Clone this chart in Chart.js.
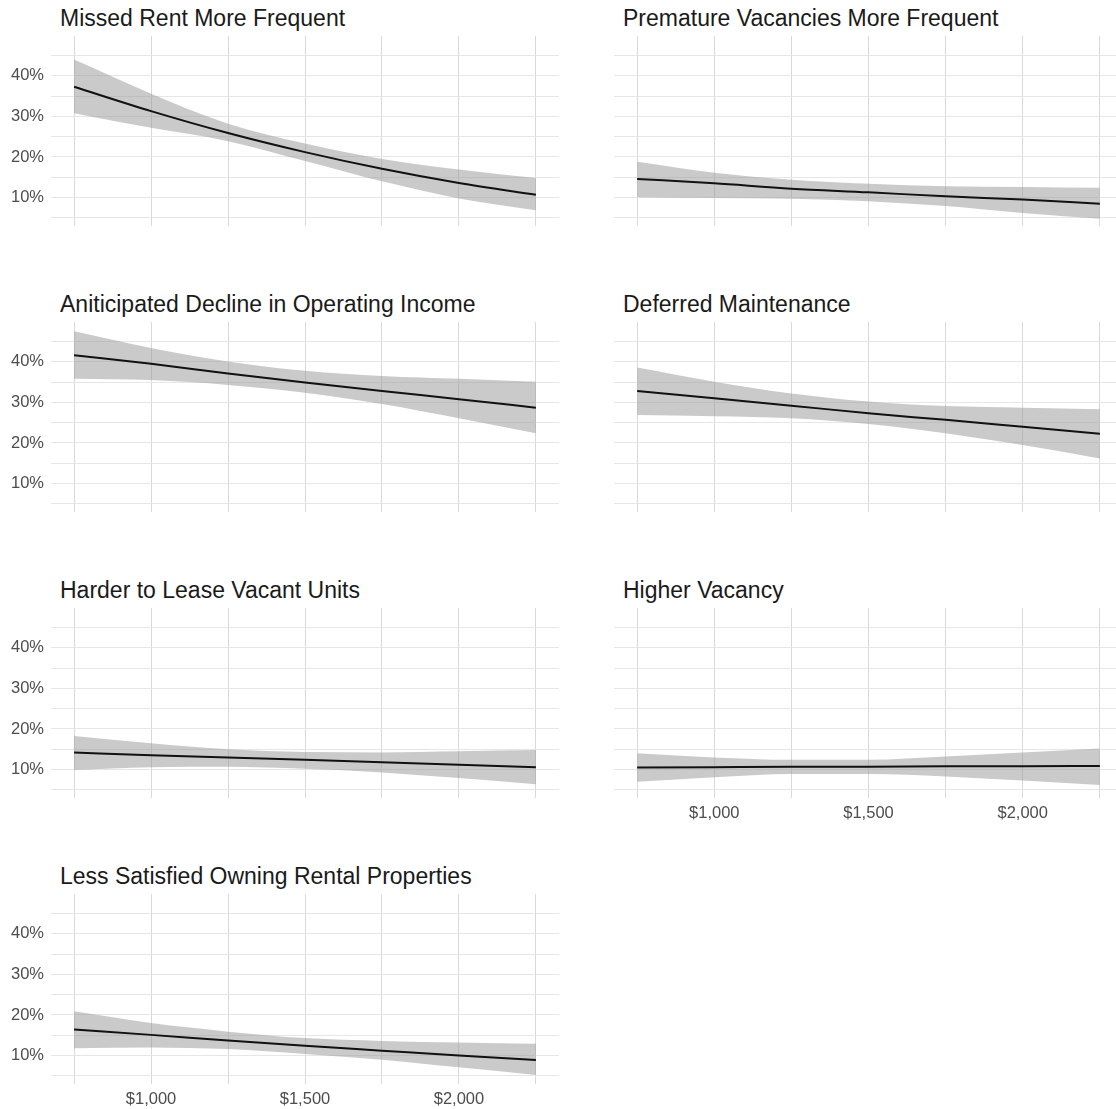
<!DOCTYPE html>
<html>
<head>
<meta charset="utf-8">
<script src="https://cdn.jsdelivr.net/npm/chart.js@4.4.1/dist/chart.umd.min.js"></script>
<style>
  html, body { margin: 0; padding: 0; background: #fff; overflow: hidden; width: 1116px; height: 1109px; }
  #wrap { position: relative; width: 1116px; height: 1109px; }
  .panel { position: absolute; }
  .title {
    position: absolute;
    font-family: "Liberation Sans", Arial, sans-serif;
    font-size: 23px;
    line-height: 23px;
    color: #1a1a1a;
    white-space: nowrap;
  }
</style>
</head>
<body>
<div id="wrap"></div>
<script>
// rent level (x) and the grid
const priceLevels = [750, 1000, 1250, 1500, 1750, 2000, 2250];
const xGridValues = [750, 1000, 1250, 1500, 1750, 2000, 2250];
const xTickLabels = [1000, 1500, 2000];
const yGridValues = [5, 10, 15, 20, 25, 30, 35, 40, 45];
const yTickLabels = [10, 20, 30, 40];

const panelTitles = [
    'Missed Rent More Frequent',
    'Premature Vacancies More Frequent',
    'Aniticipated Decline in Operating Income',
    'Deferred Maintenance',
    'Harder to Lease Vacant Units',
    'Higher Vacancy',
    'Less Satisfied Owning Rental Properties'
];

// fitted share (%) with lower / upper band, one value per price level
const missedRentFit  = [37.3, 31.3, 25.9, 21.2, 17.1, 13.6, 10.7];
const missedRentLow  = [30.8, 27.2, 23.9, 19.0, 14.0, 9.8, 6.9];
const missedRentHigh = [44.0, 35.6, 28.2, 23.3, 19.5, 16.9, 14.8];

const vacanciesFit  = [14.6, 13.5, 12.2, 11.3, 10.3, 9.5, 8.5];
const vacanciesLow  = [10.1, 9.9, 9.7, 9.1, 7.9, 6.2, 4.8];
const vacanciesHigh = [18.8, 16.1, 14.4, 13.4, 12.8, 12.6, 12.4];

const incomeFit  = [41.6, 39.5, 37.1, 34.9, 32.8, 30.8, 28.7];
const incomeLow  = [35.8, 35.5, 34.3, 32.4, 29.6, 26.1, 22.4];
const incomeHigh = [47.5, 43.4, 40.1, 37.8, 36.5, 35.8, 35.1];

const maintenanceFit  = [32.8, 31.0, 29.2, 27.3, 25.7, 24.0, 22.3];
const maintenanceLow  = [26.9, 26.6, 26.1, 24.7, 22.4, 19.5, 16.2];
const maintenanceHigh = [38.6, 35.1, 32.2, 30.2, 29.1, 28.7, 28.3];

const leaseFit  = [14.2, 13.5, 13.0, 12.4, 11.8, 11.2, 10.6];
const leaseLow  = [9.9, 10.6, 10.7, 10.2, 9.3, 7.9, 6.4];
const leaseHigh = [18.3, 16.5, 15.0, 14.3, 14.2, 14.5, 14.8];

const vacancyFit  = [10.5, 10.6, 10.7, 10.7, 10.8, 10.8, 10.9];
const vacancyLow  = [7.0, 8.1, 8.9, 8.9, 8.3, 7.3, 6.2];
const vacancyHigh = [14.0, 13.0, 12.4, 12.4, 13.2, 14.2, 15.2];

const satisfiedFit  = [16.4, 15.1, 13.7, 12.4, 11.2, 10.0, 8.9];
const satisfiedLow  = [11.8, 12.0, 11.6, 10.4, 9.0, 7.1, 5.2];
const satisfiedHigh = [20.9, 18.0, 15.9, 14.3, 13.6, 13.2, 12.9];

const panelSeries = [
    [missedRentFit, missedRentLow, missedRentHigh],
    [vacanciesFit, vacanciesLow, vacanciesHigh],
    [incomeFit, incomeLow, incomeHigh],
    [maintenanceFit, maintenanceLow, maintenanceHigh],
    [leaseFit, leaseLow, leaseHigh],
    [vacancyFit, vacancyLow, vacancyHigh],
    [satisfiedFit, satisfiedLow, satisfiedHigh]
];

const FONT = '"Liberation Sans", Arial, sans-serif';
const bandColor = 'rgba(150, 150, 150, 0.5)';
const panelH = 190;
const rowTop = [36, 322, 608, 894];
const cols = [
    { left: 0, width: 559, axisW: 51, titleX: 60 },
    { left: 560, width: 563, axisW: 54, titleX: 623 }
];

function toPoints(values) {
    return priceLevels.map((x, i) => ({ x: x, y: values[i] }));
}

const wrap = document.getElementById('wrap');

panelTitles.forEach((title, i) => {
    const row = Math.floor(i / 2);
    const col = cols[i % 2];
    const showY = i % 2 === 0;
    const showX = i >= 5;
    const xAxisH = showX ? 28 : 0;

    const t = document.createElement('div');
    t.className = 'title';
    t.style.left = col.titleX + 'px';
    t.style.top = (rowTop[row] - 29) + 'px';
    t.textContent = title;
    wrap.appendChild(t);

    const canvas = document.createElement('canvas');
    canvas.className = 'panel';
    canvas.width = col.width;
    canvas.height = panelH + xAxisH;
    canvas.style.left = col.left + 'px';
    canvas.style.top = rowTop[row] + 'px';
    canvas.style.width = col.width + 'px';
    canvas.style.height = (panelH + xAxisH) + 'px';
    wrap.appendChild(canvas);

    const [fit, low, high] = panelSeries[i];

    new Chart(canvas.getContext('2d'), {
        type: 'line',
        data: {
            // first dataset is drawn on top, so the fitted line goes first
            datasets: [
                { data: toPoints(fit), borderColor: '#111111', borderWidth: 2, pointRadius: 0, fill: false, cubicInterpolationMode: 'monotone' },
                { data: toPoints(high), borderWidth: 0, pointRadius: 0, fill: '+1', backgroundColor: bandColor, cubicInterpolationMode: 'monotone' },
                { data: toPoints(low), borderWidth: 0, pointRadius: 0, fill: false, cubicInterpolationMode: 'monotone' }
            ]
        },
        options: {
            responsive: false,
            animation: false,
            events: [],
            layout: { padding: 0, autoPadding: false },
            plugins: { legend: { display: false }, tooltip: { enabled: false }, title: { display: false } },
            scales: {
                x: {
                    type: 'linear',
                    min: 675,
                    max: 2325,
                    border: { display: false },
                    grid: { color: '#d9d9d9', lineWidth: 1, drawTicks: false },
                    afterBuildTicks: s => { s.ticks = xGridValues.map(v => ({ value: v })); },
                    afterFit: s => { s.height = xAxisH; s.paddingLeft = 0; s.paddingRight = 0; },
                    ticks: {
                        display: showX,
                        autoSkip: false,
                        maxRotation: 0,
                        padding: 6,
                        color: '#4d4d4d',
                        font: { family: FONT, size: 16.5 },
                        callback: v => xTickLabels.includes(v) ? '$' + v.toLocaleString('en-US') : ''
                    }
                },
                y: {
                    min: 3,
                    max: 49.8,
                    border: { display: false },
                    grid: { color: '#e6e6e6', lineWidth: 1, drawTicks: false },
                    afterBuildTicks: s => { s.ticks = yGridValues.map(v => ({ value: v })); },
                    afterFit: s => { s.width = col.axisW; s.paddingTop = 0; s.paddingBottom = 0; },
                    ticks: {
                        display: showY,
                        autoSkip: false,
                        padding: 7,
                        color: '#4d4d4d',
                        font: { family: FONT, size: 16.5 },
                        callback: v => yTickLabels.includes(v) ? v + '%' : ''
                    }
                }
            }
        }
    });
});
</script>
</body>
</html>
